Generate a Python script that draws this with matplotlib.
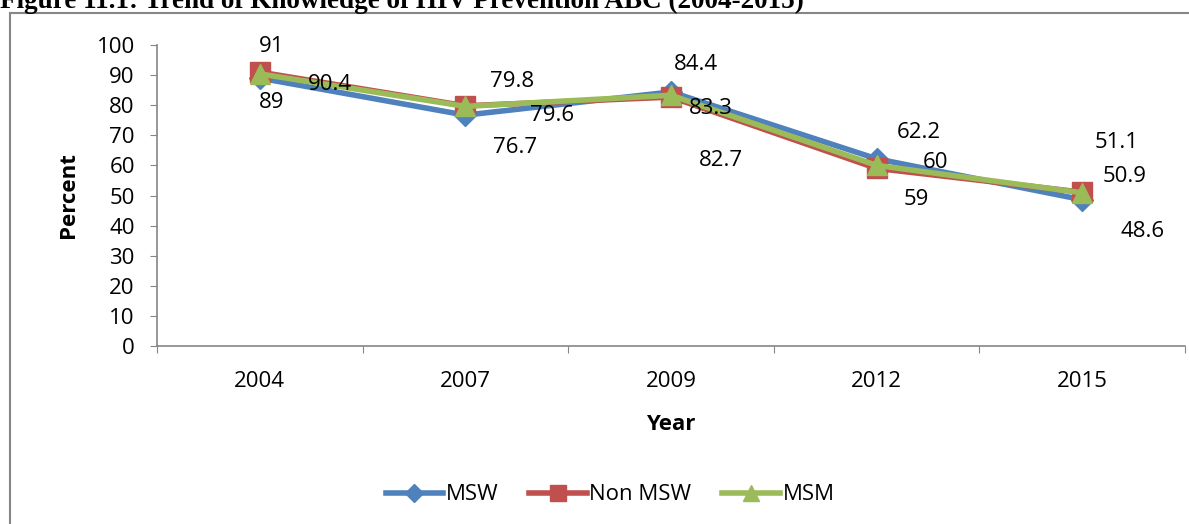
import numpy as np
import matplotlib.pyplot as plt
from matplotlib.patches import Rectangle

# data
years = ['2004', '2007', '2009', '2012', '2015']
msw = [89, 76.7, 84.4, 62.2, 48.6]
non_msw = [91, 79.8, 82.7, 59, 51.1]
msm = [90.4, 79.6, 83.3, 60, 50.9]

# label offsets in pixels (dx, dy), as Excel placed them
off_msw = [(12, -24), (50, -32), (25, 27), (42, 26), (60, -32)]
off_non = [(12, 26), (47, 24), (50, -63), (40, -31), (34, 50)]
off_msm = [(70, -11), (87, -9), (40, -13), (59, 3), (42, 16)]

plt.rcParams['font.family'] = ['Open Sans', 'DejaVu Sans']
W, H = 1189, 524

fig = plt.figure(figsize=(W / 100, H / 100), dpi=100)
ax = fig.add_axes([157/W, 1 - 346/H, (1185-157)/W, (346-45)/H])

x = np.arange(len(years))
series = [
    (msw, 'MSW', '#4F81BD', 'D', 11, off_msw),
    (non_msw, 'Non MSW', '#C0504D', 's', 14, off_non),
    (msm, 'MSM', '#9BBB59', '^', 14, off_msm),
]
for vals, name, col, mk, ms, offs in series:
    ax.plot(x, vals, color=col, lw=4, marker=mk, markersize=ms,
            markeredgecolor=col, label=name, clip_on=False)
for vals, name, col, mk, ms, offs in series:
    for xi, v, (dx, dy) in zip(x, vals, offs):
        ax.annotate(f'{v:g}', (xi, v), xytext=(dx, dy), textcoords='offset pixels',
                    ha='center', va='center', fontsize=16)

ax.set_xlim(-0.5, len(years) - 0.5)
ax.set_ylim(0, 100)
ax.set_yticks(range(0, 101, 10))
ax.tick_params(axis='y', labelsize=16, length=5, pad=11, color='#868686')
ax.set_xticks(np.arange(-0.5, len(years)), labels=[''] * (len(years) + 1))
ax.set_xticks(x, labels=years, minor=True)
ax.tick_params(axis='x', which='major', length=5, color='#868686')
ax.tick_params(axis='x', which='minor', length=0, labelsize=16, pad=18)
for s in ['top', 'right']:
    ax.spines[s].set_visible(False)
for s in ['left', 'bottom']:
    ax.spines[s].set_color('#868686')
    ax.spines[s].set_linewidth(1.2)

# axis titles
fig.text(69/W, 1 - 195/H, 'Percent', rotation=90, ha='center', va='center',
         fontsize=16, fontweight='bold')
fig.text(671/W, 1 - 430/H, 'Year', ha='center', va='baseline',
         fontsize=16, fontweight='bold')

fig.legend(loc='center', bbox_to_anchor=(610/W, 1 - 495/H), ncol=3, frameon=False,
           fontsize=16, handlelength=2.6, handletextpad=0.1, columnspacing=1.4,
           markerscale=0.8)

# outer chart frame
fig.patches.append(Rectangle((10/W, -0.1), 1.1, 1.1 - 13/H,
                             transform=fig.transFigure, fill=False,
                             edgecolor='#868686', lw=1.5))

# title (cut at the top edge, as in the source page)
fig.text(0.0, 1 - 8/H, 'Figure 11.1: Trend of Knowledge of HIV Prevention ABC (2004-2015)',
         family='Liberation Serif', fontweight='bold', fontsize=19.5, va='baseline')

fig.savefig('out.png', dpi=100)
